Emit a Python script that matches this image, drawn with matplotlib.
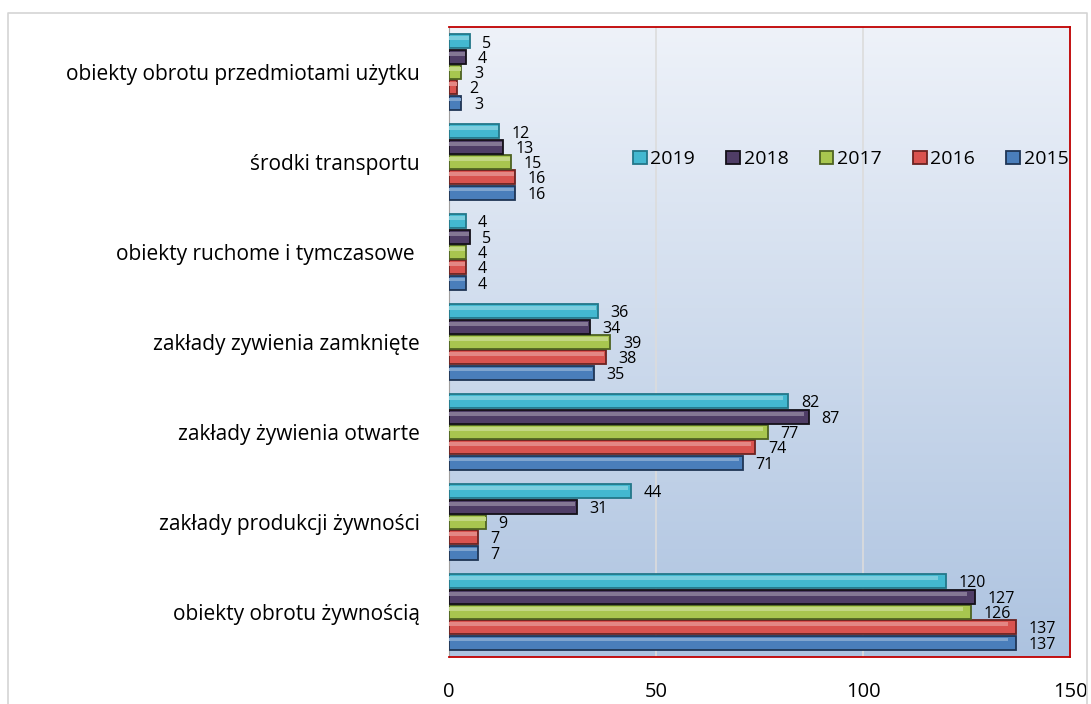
import numpy as np
import matplotlib.pyplot as plt
from matplotlib.colors import LinearSegmentedColormap, to_rgb
from matplotlib.lines import Line2D

categories = ['obiekty obrotu żywnością', 'zakłady produkcji żywności',
              'zakłady żywienia otwarte', 'zakłady zywienia zamknięte',
              'obiekty ruchome i tymczasowe ', 'środki transportu',
              'obiekty obrotu przedmiotami użytku']
years = ['2015', '2016', '2017', '2018', '2019']
v2015 = [137, 7, 71, 35, 4, 16, 3]
v2016 = [137, 7, 74, 38, 4, 16, 2]
v2017 = [126, 9, 77, 39, 4, 15, 3]
v2018 = [127, 31, 87, 34, 5, 13, 4]
v2019 = [120, 44, 82, 36, 4, 12, 5]
series = [v2015, v2016, v2017, v2018, v2019]
colors = ['#4a7ebb', '#d9534f', '#a8c64f', '#4f3d66', '#43b8d0']
edges = ['#1f3555', '#6b2321', '#4e6322', '#141018', '#237789']

plt.rcParams['font.family'] = ['Open Sans', 'DejaVu Sans']

fig = plt.figure(figsize=(10.91, 7.04), dpi=100)
# outer chart border (left, top, right)
fig.add_artist(Line2D([0.0075, 0.0075, 0.9965, 0.9965], [0, 0.982, 0.982, 0],
                      transform=fig.transFigure, color='#d4d4d4', lw=1.2))
ax = fig.add_axes([0.4115, 0.0668, 0.5693, 0.8948])

grad = np.linspace(0, 1, 256).reshape(-1, 1)
cmap = LinearSegmentedColormap.from_list('bg', ['#eef2f9', '#adc3e0'])
ax.imshow(grad, aspect='auto', cmap=cmap, extent=[0, 1, 0, 1],
          transform=ax.transAxes, zorder=0)

def lighter(c, f):
    r = np.array(to_rgb(c))
    return tuple(r + (1 - r) * f)

y = np.arange(len(categories))
h = 0.17
for i, (vals, c, e) in enumerate(zip(series, colors, edges)):
    pos = y - 2 * h + i * h
    ax.barh(pos, vals, height=h * 0.92, color=c, edgecolor=e, lw=1.3,
            label=years[i], zorder=3)
    # bevel highlight
    ax.barh(pos + h * 0.2, np.array(vals) * 0.985, height=h * 0.25,
            color=lighter(c, 0.3), lw=0, zorder=4)
    for p, v in zip(pos, vals):
        ax.annotate(str(v), (v, p), xytext=(9, -1.5),
                    textcoords='offset points', va='center', ha='left',
                    fontsize=11.5, zorder=5)

ax.set_xlim(0, 150)
ax.set_ylim(-0.5, len(categories) - 0.5)
ax.set_xticks([0, 50, 100, 150])
ax.set_yticks(y)
ax.set_yticklabels(categories, fontsize=15)
ax.tick_params(axis='x', labelsize=14.5, length=0, pad=18)
ax.tick_params(axis='y', length=0, pad=21)
ax.grid(axis='x', color='#dcdcdc', lw=1.2, zorder=1)
for s in ['top', 'right', 'bottom']:
    ax.spines[s].set_color('#c00000')
    ax.spines[s].set_linewidth(1.3)
ax.spines['left'].set_color('#a0a0a0')

handles, labels = ax.get_legend_handles_labels()
ax.legend(handles[::-1], labels[::-1], ncol=5, loc='center',
          bbox_to_anchor=(0.647, 0.79), frameon=False, fontsize=14,
          handlelength=0.7, handleheight=0.7, handletextpad=0.2,
          columnspacing=1.6)

fig.savefig('out.png', dpi=100)
